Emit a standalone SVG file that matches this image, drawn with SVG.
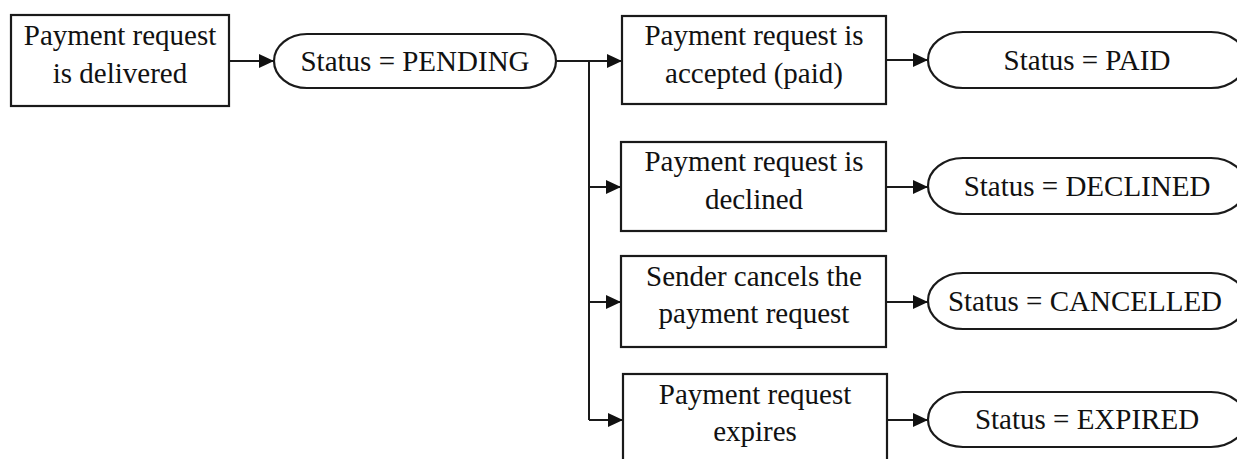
<svg xmlns="http://www.w3.org/2000/svg" width="1237" height="459" viewBox="0 0 1237 459">
<style>
.box{fill:#fff;stroke:#1a1a1a;stroke-width:2.2}
.term{fill:#fff;stroke:#1a1a1a;stroke-width:2.2}
.t{font-family:"Liberation Serif","Times New Roman",serif;font-size:29px;fill:#111;text-anchor:middle}
.c{fill:none;stroke:#1a1a1a;stroke-width:2}
</style>
<defs>
<marker id="ah" viewBox="0 0 15 14" refX="15" refY="7" markerWidth="15" markerHeight="14" markerUnits="userSpaceOnUse" orient="auto">
<path d="M0,0 L15,7 L0,14 Z" fill="#111"/>
</marker>
</defs>
<rect width="1237" height="459" fill="#fff"/>
<g id="connectors">
<path class="c" d="M229,61 H274" marker-end="url(#ah)"/>
<path class="c" d="M556,61 H589 V420"/>
<path class="c" d="M589,61 H622" marker-end="url(#ah)"/>
<path class="c" d="M589,187 H621" marker-end="url(#ah)"/>
<path class="c" d="M589,302 H621" marker-end="url(#ah)"/>
<path class="c" d="M589,420 H623" marker-end="url(#ah)"/>
<path class="c" d="M886,60 H928" marker-end="url(#ah)"/>
<path class="c" d="M886,187 H928" marker-end="url(#ah)"/>
<path class="c" d="M886,302 H928" marker-end="url(#ah)"/>
<path class="c" d="M887,420 H928" marker-end="url(#ah)"/>
</g>
<g id="delivered">
<rect class="box" x="11" y="15" width="218" height="91"/>
<text class="t" x="120" y="45">Payment request</text>
<text class="t" x="120" y="83">is delivered</text>
</g>
<g id="pending">
<rect class="term" x="274" y="34" width="282" height="54" rx="33" ry="27"/>
<text class="t" x="415" y="71">Status = PENDING</text>
</g>
<g id="accepted">
<rect class="box" x="622" y="16" width="264" height="88"/>
<text class="t" x="754" y="45">Payment request is</text>
<text class="t" x="754" y="83">accepted (paid)</text>
</g>
<g id="paid">
<rect class="term" x="928" y="32" width="318" height="56" rx="35" ry="28"/>
<text class="t" x="1087" y="70">Status = PAID</text>
</g>
<g id="declined">
<rect class="box" x="621" y="142" width="265" height="89"/>
<text class="t" x="754" y="171">Payment request is</text>
<text class="t" x="754" y="209">declined</text>
</g>
<g id="status-declined">
<rect class="term" x="928" y="158" width="318" height="56" rx="35" ry="28"/>
<text class="t" x="1087" y="196">Status = DECLINED</text>
</g>
<g id="cancels">
<rect class="box" x="621" y="256" width="265" height="91"/>
<text class="t" x="754" y="286">Sender cancels the</text>
<text class="t" x="754" y="323">payment request</text>
</g>
<g id="cancelled">
<rect class="term" x="928" y="273" width="318" height="56" rx="35" ry="28"/>
<text class="t" x="1085" y="311">Status = CANCELLED</text>
</g>
<g id="expires">
<rect class="box" x="623" y="374" width="264" height="90"/>
<text class="t" x="755" y="404">Payment request</text>
<text class="t" x="755" y="441">expires</text>
</g>
<g id="expired">
<rect class="term" x="928" y="392" width="318" height="55" rx="35" ry="27.5"/>
<text class="t" x="1087" y="429">Status = EXPIRED</text>
</g>
</svg>
